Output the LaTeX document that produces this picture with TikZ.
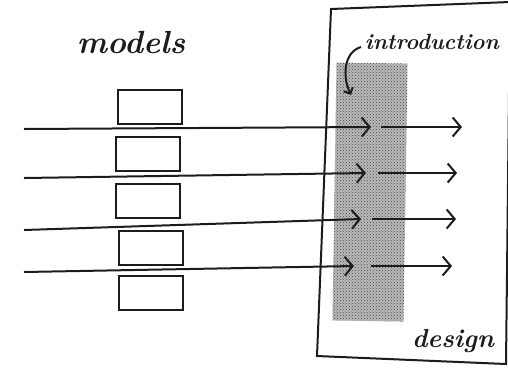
\documentclass[tikz,border=0pt]{standalone}
\usepackage{tikz}
\usepackage{xcolor}
\usetikzlibrary{arrows.meta,patterns}
\definecolor{ink}{RGB}{28,28,28}

\begin{document}
\begin{tikzpicture}[x=1pt, y=-1pt, >={Straight Barb[length=8pt,width=19pt]},
    hand/.style={ink, font=\bfseries\itshape},
    model/.style={draw=ink, line width=2pt, minimum width=64pt, minimum height=34pt}]
    \useasboundingbox (0,0) rectangle (508,368);

    % Shaded introduction strip
    \node[fill=gray!55, postaction={pattern=crosshatch dots, pattern color=black!70},
          minimum width=71pt, minimum height=258pt, rotate=-0.9] (intro) at (370,192) {};

    % Design frame
    \draw[ink, line width=2pt] (331,9) -- (510,2) -- (506,364) -- (317,356) -- cycle;
    \node[hand, font=\bfseries\itshape\fontsize{26}{26}\selectfont] (design) at (453,341) {design};

    % Models
    \node[hand, font=\bfseries\itshape\fontsize{32}{32}\selectfont] (models) at (131,43) {models};
    \node[model] (m1) at (149.5,107) {};
    \node[model] (m2) at (147.5,153.5) {};
    \node[model] (m3) at (148,201) {};
    \node[model] (m4) at (151,247.5) {};
    \node[model] (m5) at (150.5,292.5) {};

    % Flows through the introduction
    \foreach \i/\yl/\yr/\xa/\xb/\xc in {1/129/127/371/381/462, 2/178/173/366/378/457,
                                       3/230/219/361/372/456, 4/272/266/354/371/452} {
        \coordinate (s\i) at (24,\yl);
        \coordinate (a\i) at (\xa,\yr);
        \coordinate (b\i) at (\xb,\yr);
        \coordinate (c\i) at (\xc,\yr);
        \draw[->, ink, line width=2pt] (s\i) -- (a\i);
        \draw[->, ink, line width=2pt] (b\i) -- (c\i);
    }

    % Introduction label
    \node[hand, font=\bfseries\itshape\fontsize{22}{22}\selectfont] (introlabel) at (432,42) {introduction};
    \coordinate (hook) at (361,47);
    \draw[->, ink, line width=2pt, >={Straight Barb[length=5pt,width=10pt]}]
        (hook) .. controls (344,52) and (342,76) .. (351,95);
\end{tikzpicture}
\end{document}
